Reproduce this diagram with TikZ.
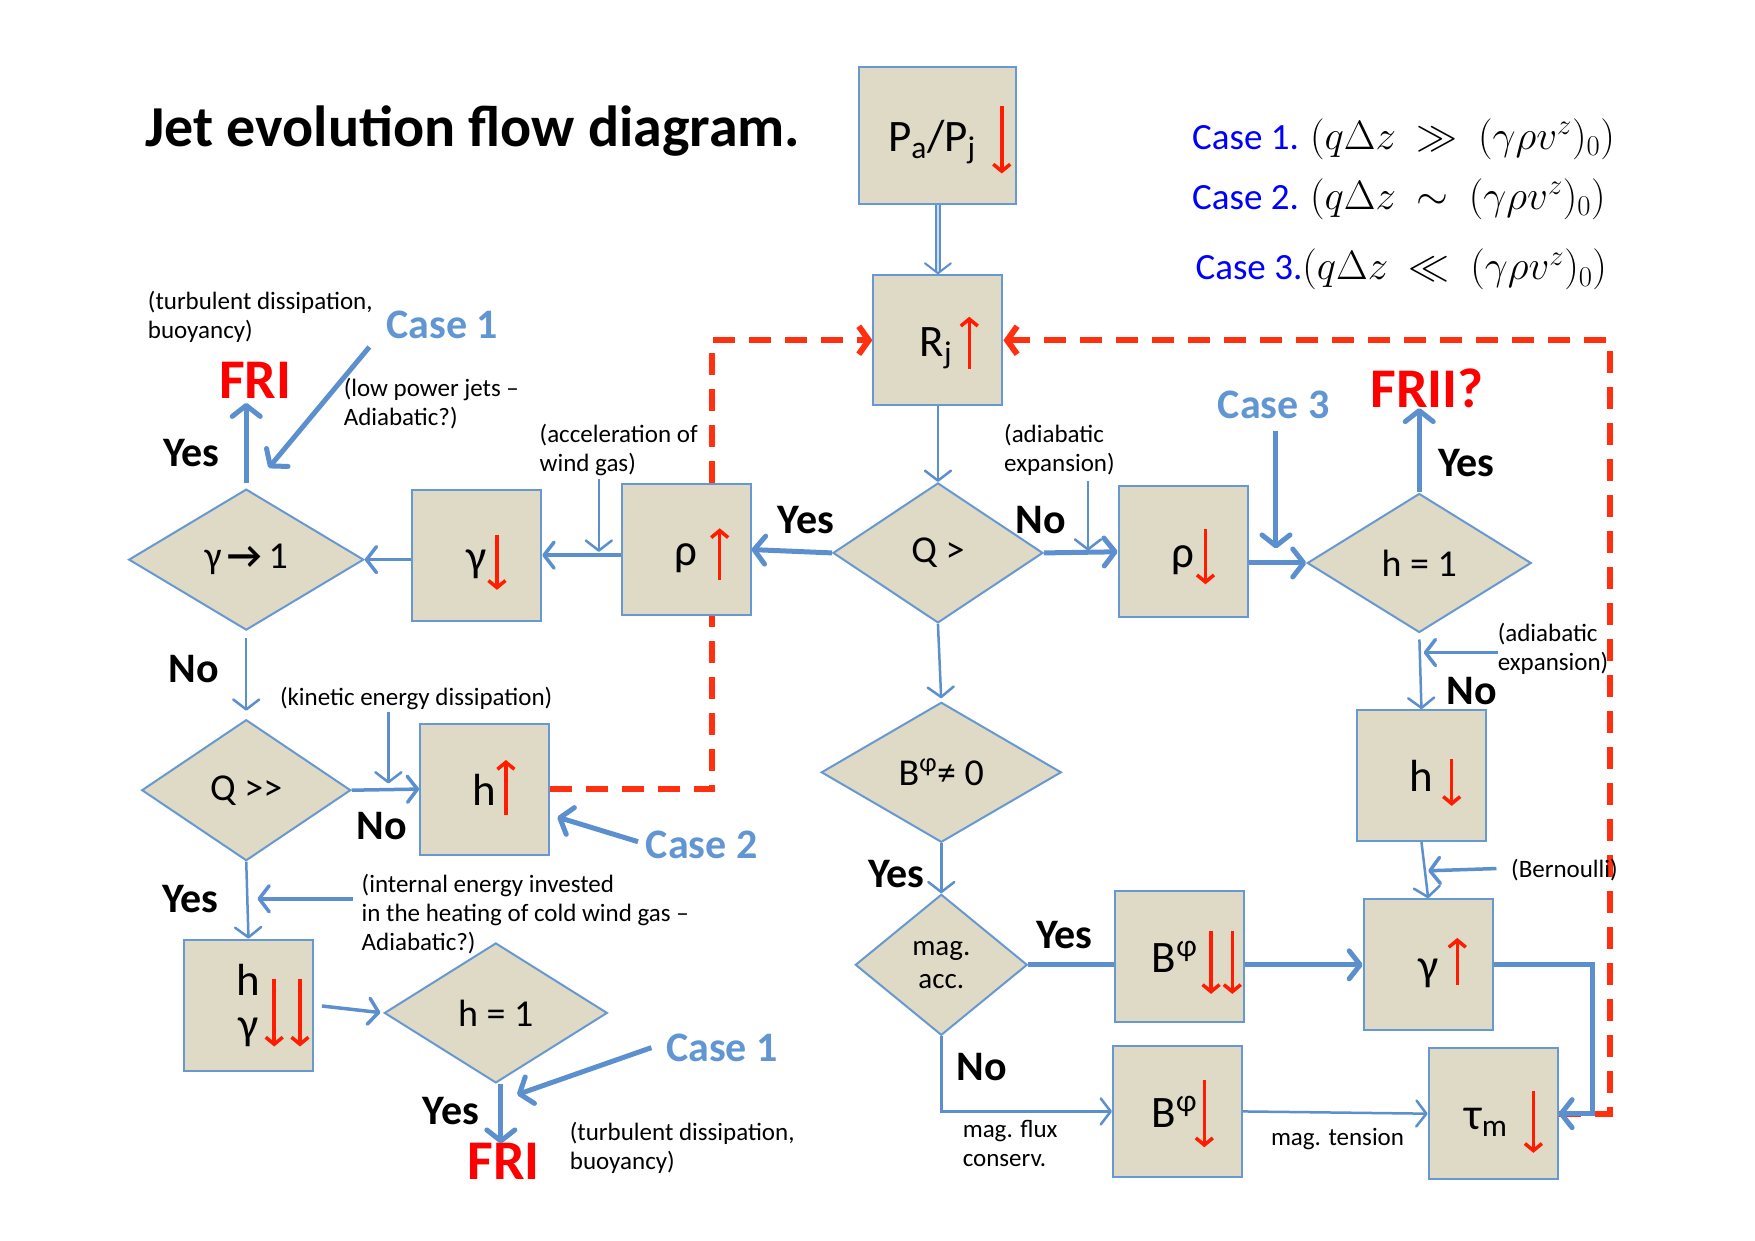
\documentclass[tikz,border=0pt]{standalone}
\usepackage{fix-cm}
\usepackage{fontspec}
\setmainfont{Carlito}
\usetikzlibrary{shapes.geometric,arrows.meta,backgrounds}
\definecolor{flowblue}{RGB}{92,143,205}
\definecolor{boxedge}{RGB}{104,152,210}
\definecolor{boxfill}{RGB}{222,218,198}
\definecolor{arrowred}{RGB}{255,28,0}
\definecolor{loopred}{RGB}{255,48,16}
\definecolor{caseblue}{RGB}{0,0,255}
\definecolor{labelblue}{RGB}{98,150,210}
\newcommand{\titlefont}{\fontsize{58}{66}\selectfont\bfseries}
\newcommand{\boxfont}{\fontsize{45}{48}\selectfont}
\newcommand{\testfont}{\fontsize{38}{44}\selectfont}
\newcommand{\answerfont}{\fontsize{42}{48}\selectfont\bfseries}
\newcommand{\notefont}{\fontsize{25}{29}\selectfont}
\newcommand{\casefont}{\fontsize{37}{44}\selectfont}
\newcommand{\casemath}{\fontsize{41}{44}\selectfont}
\newcommand{\fronfont}{\fontsize{56}{64}\selectfont\bfseries}

\begin{document}
\begin{tikzpicture}[x=1.1193pt,y=-1.1193pt,every node/.style={inner sep=0pt},
  box/.style={draw=boxedge,fill=boxfill,line width=2pt,minimum width=129pt,minimum height=131pt,font=\boxfont,align=center,text height=36pt,text depth=4pt},
  test/.style={diamond,draw=boxedge,fill=boxfill,line width=2pt,font=\testfont,align=center},
  answer/.style={font=\answerfont},
  note/.style={font=\notefont,align=left,anchor=west},
  caselabel/.style={font=\answerfont,text=labelblue},
  fr/.style={font=\fronfont,text=red},
  flowthin/.style={draw=flowblue,line width=2.5pt,-{Straight Barb[length=10pt,width=26pt,round]}},
  flowmid/.style={draw=flowblue,line width=3.5pt,-{Straight Barb[length=10pt,width=26pt,round]}},
  flowthick/.style={draw=flowblue,line width=5pt,-{Straight Barb[length=11pt,width=28pt,round]}},
  trend/.style={draw=arrowred,line width=3.5pt,-{Straight Barb[length=7pt,width=17pt]}},
  feedback/.style={draw=loopred,line width=6pt,dash pattern=on 22pt off 14pt,-{Straight Barb[length=10pt,width=28pt]}}]
\useasboundingbox (0,0) rectangle (1568,1108);
% Title and case definitions
\node[font=\titlefont,anchor=west] (title) at (130,117) {Jet evolution flow diagram.};
\node[font=\casefont,anchor=west] (caseA) at (1065,124) {{\color{caseblue}Case 1.} {\casemath$(q\Delta z \:\gg\: (\gamma\rho v^z)_0)$}};
\node[font=\casefont,anchor=west] (caseB) at (1065,178) {{\color{caseblue}Case 2.} {\casemath$(q\Delta z \:\sim\: (\gamma\rho v^z)_0)$}};
\node[font=\casefont,anchor=west] (caseC) at (1068,241) {{\color{caseblue}Case 3.}{\casemath$(q\Delta z \:\ll\: (\gamma\rho v^z)_0)$}};
% Central column
\node[box,minimum width=157pt,minimum height=137pt] (pj) at (838,121) {P\textsubscript{a}/P\textsubscript{j}\hspace{12pt}};
\node[box,minimum height=130pt] (rj) at (838,304) {R\textsubscript{j}\hspace{4pt}};
\node[test,minimum width=210pt,minimum height=140pt] (qgt) at (838,494) {\rule{0pt}{8pt}Q >};
\node[test,minimum width=240pt,minimum height=140pt] (bneq) at (841,690) {B\textsuperscript{φ}≠ 0};
\node[test,minimum width=172pt,minimum height=141pt,font=\fontsize{29}{33}\selectfont] (magacc) at (841,862) {\rule{0pt}{6pt}mag.\\acc.};
% Left branch
\node[box] (rhoup) at (613,491) {ρ};
\node[box] (gamdn) at (426,496) {γ};
\node[test,minimum width=235pt,minimum height=141pt] (gam1) at (220,500) {γ\,{\bfseries →}\,1};
\node[test,minimum width=209pt,minimum height=141pt] (qgg) at (220,706) {Q >{}>};
\node[box] (hup) at (433,705) {h};
\node[box,text height=,text depth=] (hgam) at (222,898) {h\\[-4pt]γ};
\node[test,minimum width=223pt,minimum height=140pt] (honeL) at (443,905) {h = 1};
\node[fr] (friA) at (228,340) {FRI};
\node[fr] (friB) at (450,1038) {FRI};
% Right branch
\node[box] (rhodn) at (1057,493) {ρ};
\node[test,minimum width=224pt,minimum height=139pt] (honeR) at (1268,503) {h = 1};
\node[fr] (frii) at (1275,347) {FRII?};
\node[box] (hdn) at (1270,693) {h};
\node[box] (gamup) at (1276,862) {γ};
\node[box] (bpp) at (1054,855) {B\textsuperscript{φ}\hspace{10pt}};
\node[box] (bp) at (1052,993) {B\textsuperscript{φ}\hspace{6pt}};
\node[box] (taum) at (1334,995) {τ\textsubscript{m}\hspace{14pt}};
% Red trend arrows inside the boxes
\draw[trend] (895,95) -- (895,155);
\draw[trend] (866,330) -- (866,283);
\draw[trend] (643,518) -- (643,472);
\draw[trend] (444,478) -- (444,527);
\draw[trend] (452,728) -- (452,679);
\draw[trend] (245,875) -- (245,935);
\draw[trend] (268,875) -- (268,935);
\draw[trend] (1077,473) -- (1077,522);
\draw[trend] (1297,678) -- (1297,720);
\draw[trend] (1302,880) -- (1302,838);
\draw[trend] (1082,832) -- (1082,888);
\draw[trend] (1101,832) -- (1101,888);
\draw[trend] (1076,965) -- (1076,1025);
\draw[trend] (1370,975) -- (1370,1030);
% Feedback loops to R_j
\coordinate (loopL) at (636,304);
\coordinate (loopR) at (1438,304);
\begin{scope}[on background layer]
\draw[feedback] (hup.east) -| (loopL) -- (rj.west);
\draw[feedback] (taum.east) -| (loopR) -- (rj.east);
\end{scope}
% Main flow
\draw[flowthin,line width=2pt,double=white!70!flowblue,double distance=1.5pt] (pj.south) -- (rj.north);
\draw[flowthin] (rj.south) -- (qgt.north);
\draw[flowthick] (qgt.west) -- (rhoup.east);
\draw[flowthick] (qgt.east) -- (rhodn.west);
\draw[flowmid] (rhoup.west |- gamdn.east) -- (gamdn.east);
\draw[flowmid] (gamdn.west |- gam1.east) -- (gam1.east);
\draw[flowthick,shorten <=5pt,shorten >=4pt] (gam1.north) -- (gam1.north |- friA.south);
\draw[flowthin,shorten <=7pt,shorten >=8pt] (gam1.south) -- (qgg.north);
\draw[flowmid] (qgg.east) -- (hup.west);
\draw[flowthin] (qgg.south) -- (hgam.north);
\draw[flowmid,shorten <=8pt,shorten >=3pt] (hgam.east) -- (honeL.west);
\draw[flowthick] ([xshift=5pt]honeL.south) -- ([xshift=5pt]honeL.south |- friB.north);
\draw[flowthick] (rhodn.east |- honeR.west) -- (honeR.west);
\draw[flowthick] (honeR.north) -- (honeR.north |- frii.south);
\draw[flowthin,shorten <=6pt] (honeR.south) -- (hdn.north);
\draw[flowthin] (hdn.south) -- (gamup.north);
\draw[flowthin,shorten >=3pt] (qgt.south) -- (bneq.north);
\draw[flowthin] (bneq.south) -- (magacc.north);
\draw[flowthick,-] (magacc.east) -- (magacc.east -| bpp.west);
\draw[flowthick] (bpp.east |- gamup.west) -- (gamup.west);
\coordinate (elbow) at (1423,995);
\draw[flowthick] (gamup.east) -| (elbow) -- (taum.east);
\draw[flowthin] (magacc.south) |- (bp.west);
\draw[flowthin] (bp.east) -- (taum.west);
% Yes / No
\node[answer] (yesA) at (720,465) {Yes};
\node[answer] (noA) at (930,465) {No};
\node[answer] (yesB) at (1310,414) {Yes};
\node[answer] (noB) at (1315,617) {No};
\node[answer] (yesC) at (171,405) {Yes};
\node[answer] (noC) at (173,598) {No};
\node[answer] (noD) at (341,738) {No};
\node[answer] (yesD) at (170,803) {Yes};
\node[answer] (yesE) at (403,993) {Yes};
\node[answer] (yesF) at (801,781) {Yes};
\node[answer] (yesG) at (951,835) {Yes};
\node[answer] (noE) at (877,953) {No};
% Case markers
\node[caselabel] (caseOneA) at (395,290) {Case 1};
\node[caselabel] (caseThree) at (1138,362) {Case 3};
\node[caselabel] (caseTwo) at (627,755) {Case 2};
\node[caselabel] (caseOneB) at (645,936) {Case 1};
\coordinate (c1a) at (330,310); \coordinate (c1b) at (240,418);
\coordinate (c3a) at (1140,385); \coordinate (c3b) at (1140,490);
\coordinate (c2a) at (570,752); \coordinate (c2b) at (498,730);
\coordinate (c4a) at (582,936); \coordinate (c4b) at (462,978);
\draw[flowthick] (c1a) -- (c1b);
\draw[flowthick] (c3a) -- (c3b);
\draw[flowthick] (c2a) -- (c2b);
\draw[flowthick] (c4a) -- (c4b);
% Annotations
\node[note] (turbA) at (132,283) {(turbulent dissipation,\\buoyancy)};
\node[note] (lowpow) at (307,361) {(low power jets –\\Adiabatic?)};
\node[note] (accel) at (482,402) {(acceleration of\\wind gas)};
\node[note] (adiaA) at (897,402) {(adiabatic\\expansion)};
\node[note] (adiaB) at (1338,580) {(adiabatic\\expansion)};
\node[note] (bern) at (1350,777) {(Bernoulli)};
\node[note] (kinet) at (250,624) {(kinetic energy dissipation)};
\node[note] (inten) at (323,817) {(internal energy invested\\in the heating of cold wind gas –\\Adiabatic?)};
\node[note] (turbB) at (509,1026) {(turbulent dissipation,\\buoyancy)};
\node[note] (flux) at (860,1022) {mag. flux\\conserv.};
\node[font=\notefont] (tension) at (1195,1018) {mag. tension};
\coordinate (ad1) at (972,430); \coordinate (ad2) at (972,492);
\coordinate (ac1) at (535,428); \coordinate (ac2) at (535,493);
\coordinate (ki1) at (347,636); \coordinate (ki2) at (347,700);
\coordinate (ar1) at (1338,583); \coordinate (ar2) at (1272,583);
\coordinate (be1) at (1337,776); \coordinate (be2) at (1276,778);
\coordinate (ie1) at (315,803); \coordinate (ie2) at (230,803);
\draw[flowthin] (ad1) -- (ad2);
\draw[flowthin] (ac1) -- (ac2);
\draw[flowthin] (ki1) -- (ki2);
\draw[flowmid] (ar1) -- (ar2);
\draw[flowmid] (be1) -- (be2);
\draw[flowmid] (ie1) -- (ie2);
\end{tikzpicture}
\end{document}
